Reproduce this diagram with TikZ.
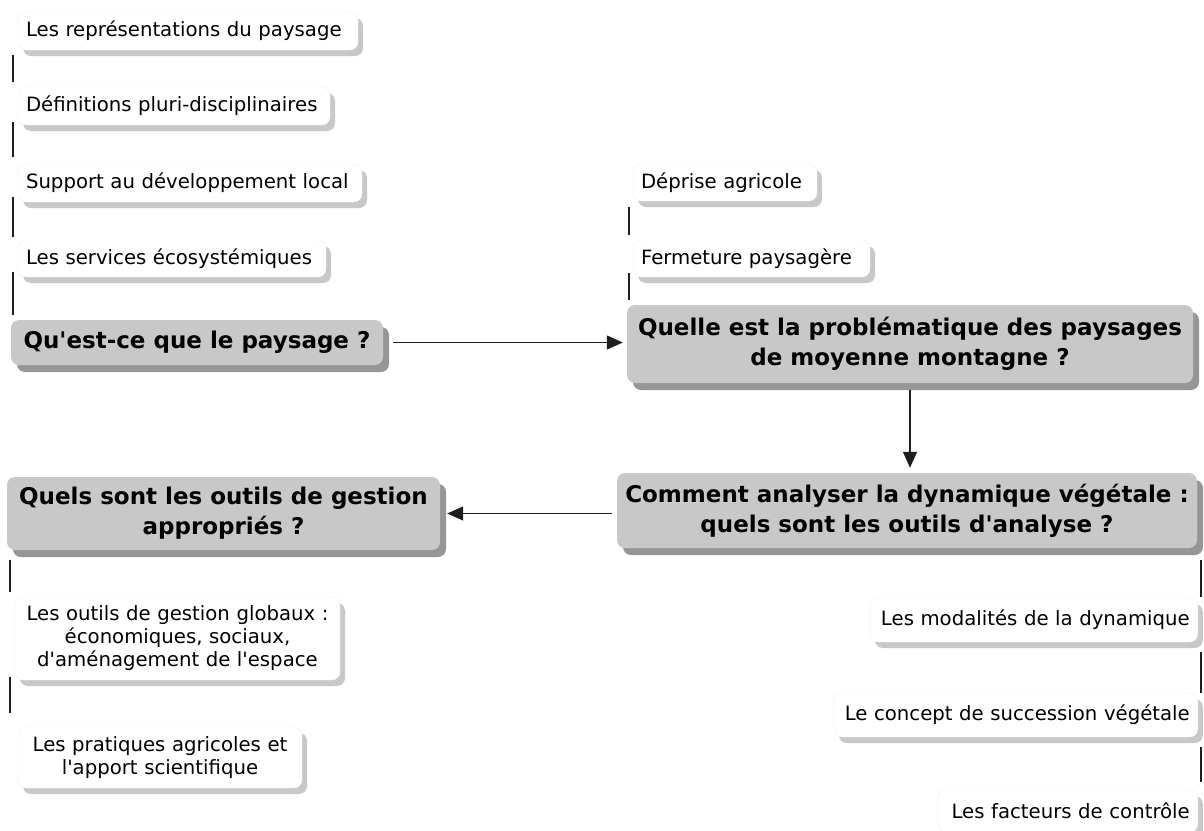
\documentclass[tikz,border=0pt]{standalone}
\usepackage{fontspec}
\setmainfont{DejaVu Sans}
\usetikzlibrary{shadows,arrows.meta}
\definecolor{mainfill}{RGB}{200,200,200}
\definecolor{mainshadow}{RGB}{150,150,150}
\definecolor{topicshadow}{RGB}{200,200,200}
\definecolor{linecol}{RGB}{30,30,30}
\newcommand{\aq}{\textquotesingle}
\hyphenpenalty=10000
\begin{document}
\begin{tikzpicture}[x=1pt,y=-1pt,
  topic/.style={fill=white, draw=black!6, line width=0.4pt, rounded corners=8pt,
    general shadow={fill=topicshadow, shadow xshift=5pt, shadow yshift=-6pt},
    font=\fontsize{19.7}{23}\selectfont, inner xsep=8pt, inner ysep=0pt},
  mainq/.style={fill=mainfill, rounded corners=8pt,
    general shadow={fill=mainshadow, shadow xshift=6pt, shadow yshift=-7pt},
    font=\bfseries\fontsize{23}{30}\selectfont, align=center, inner sep=0pt},
  arr/.style={draw=linecol, line width=1.3pt, -{Triangle[length=16pt,width=14pt]}},
  stub/.style={draw=linecol, line width=1.4pt}]
\useasboundingbox (0,0) rectangle (1204,830);
\clip (0,0) rectangle (1204,830);

% left topic boxes
\node[topic, text width=324pt, minimum height=38pt, align=left] (L1) at (188,31) {Les représentations du paysage};
\node[topic, text width=296pt, minimum height=38pt, align=left] (L2) at (174,106) {Définitions pluri-disciplinaires};
\node[topic, text width=328pt, minimum height=38pt, align=left] (L3) at (190,183) {Support au développement local};
\node[topic, text width=292pt, minimum height=37pt, align=left] (L4) at (172,258.5) {Les services écosystémiques};

% right top topic boxes
\node[topic, text width=168pt, minimum height=37pt, align=left] (R1) at (725,182.5) {Déprise agricole};
\node[topic, text width=221pt, minimum height=37pt, align=left] (R2) at (751.5,258.5) {Fermeture paysagère};

% main questions
\node[mainq, minimum width=372pt, minimum height=45pt] (Q1) at (197,342.5) {Qu\aq est-ce que le paysage ?};
\node[mainq, minimum width=566pt, minimum height=78pt] (Q2) at (910,344) {Quelle est la problématique des paysages\\de moyenne montagne ?};
\node[mainq, minimum width=580pt, minimum height=75pt] (Q3) at (907,510.5) {Comment analyser la dynamique végétale :\\quels sont les outils d\aq analyse ?};
\node[mainq, minimum width=433pt, minimum height=73pt] (Q4) at (223.5,513.5) {Quels sont les outils de gestion\\appropriés ?};

% bottom left topic boxes
\node[topic, text width=309pt, minimum height=83pt, align=center] (B1) at (177.5,638.5) {Les outils de gestion globaux :\\économiques, sociaux,\\d\aq aménagement de l\aq espace};
\node[topic, text width=268pt, minimum height=61pt, align=center] (B2) at (160,757.5) {Les pratiques agricoles et\\l\aq apport scientifique};

% bottom right topic boxes
\node[topic, text width=312pt, minimum height=44pt, align=right, anchor=east] (RR1) at (1198,620) {Les modalités de la dynamique};
\node[topic, text width=348pt, minimum height=44pt, align=right, anchor=east] (RR2) at (1198,715) {Le concept de succession végétale};
\node[topic, text width=244pt, minimum height=42pt, align=right, anchor=east] (RR3) at (1198,811) {Les facteurs de contrôle};

% reference x positions for the stubs
\coordinate (lx) at (13,0);
\coordinate (rx) at (629,0);
\coordinate (bx) at (10,0);
\coordinate (ex) at (1201,0);

% stubs
\draw[stub] ([yshift=-5pt]L1.south -| lx) -- ([yshift=5pt]L2.north -| lx);
\draw[stub] ([yshift=3pt]L2.south -| lx) -- ([yshift=7pt]L3.north -| lx);
\draw[stub] ([yshift=5pt]L3.south -| lx) -- ([yshift=3pt]L4.north -| lx);
\draw[stub] ([yshift=5pt]L4.south -| lx) -- ([yshift=5pt]Q1.north -| lx);

\draw[stub] ([yshift=-6pt]R1.south -| rx) -- ([yshift=5pt]R2.north -| rx);
\draw[stub] ([yshift=4pt]R2.south -| rx) -- ([yshift=5pt]Q2.north -| rx);

\draw[stub] ([yshift=-10pt]Q4.south -| bx) -- ([yshift=5pt]B1.north -| bx);
\draw[stub] ([yshift=3pt]B1.south -| bx) -- ([yshift=14pt]B2.north -| bx);

\draw[stub] ([yshift=-12pt]Q3.south -| ex) -- ([yshift=1pt]RR1.north -| ex);
\draw[stub] ([yshift=-10pt]RR1.south -| ex) -- ([yshift=0pt]RR2.north -| ex);
\draw[stub] ([yshift=-10pt]RR2.south -| ex) -- ([yshift=8pt]RR3.north -| ex);

% arrows
\draw[arr, shorten <=10pt, shorten >=4pt] (Q1.east) -- (Q1.east -| Q2.west);
\draw[arr, shorten <=7pt, shorten >=5pt] (Q2.south) -- (Q2.south |- Q3.north);
\draw[arr, shorten <=5pt, shorten >=7pt] (Q4.east -| Q3.west) -- (Q4.east);
\end{tikzpicture}
\end{document}
